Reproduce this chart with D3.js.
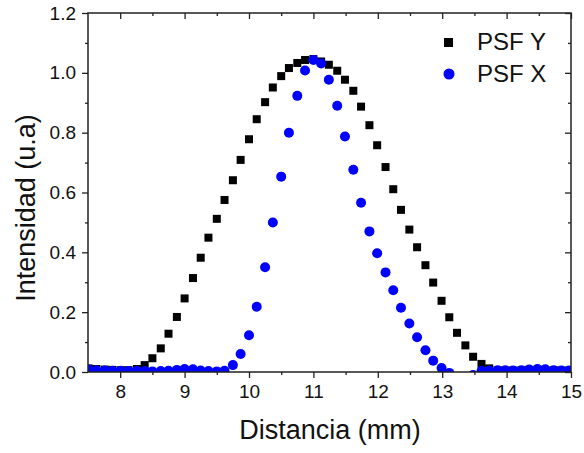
<!DOCTYPE html>
<html>
<head>
<meta charset="utf-8">
<script src="https://cdn.jsdelivr.net/npm/d3@7"></script>
<style>
    body { margin: 0; background: #fff; }
    text { font-family: "Liberation Sans", Arial, sans-serif; fill: #111; }
</style>
</head>
<body>
<svg id="chart" width="584" height="453"></svg>
<script>
// distance grid (mm), shared by both profiles
var distancia = [7.51, 7.63, 7.76, 7.88, 8.01, 8.13, 8.26, 8.38, 8.50, 8.63,
    8.75, 8.88, 9.00, 9.13, 9.25, 9.37, 9.50, 9.62, 9.75, 9.87,
    10.00, 10.12, 10.25, 10.37, 10.50, 10.62, 10.75, 10.87, 11.00, 11.12,
    11.24, 11.37, 11.49, 11.62, 11.74, 11.87, 11.99, 12.12, 12.24, 12.36,
    12.49, 12.61, 12.74, 12.86, 12.99, 13.11, 13.23, 13.36, 13.48, 13.61,
    13.73, 13.86, 13.98, 14.10, 14.23, 14.35, 14.48, 14.60, 14.73, 14.85, 14.97];

var psfY = [0.012, 0.010, 0.008, 0.007, 0.006, 0.006, 0.010, 0.023, 0.046, 0.079,
    0.128, 0.184, 0.246, 0.314, 0.382, 0.449, 0.512, 0.575, 0.641, 0.709,
    0.778, 0.845, 0.902, 0.951, 0.989, 1.016, 1.033, 1.043, 1.046, 1.038,
    1.027, 1.007, 0.977, 0.940, 0.887, 0.825, 0.758, 0.685, 0.611, 0.542,
    0.476, 0.417, 0.357, 0.299, 0.238, 0.183, 0.131, 0.089, 0.051, 0.027,
    0.012, 0.006, 0.005, 0.005, 0.006, 0.007, 0.008, 0.007, 0.006, 0.005, 0.005];

var psfX = [0.008, 0.006, 0.005, 0.004, 0.004, 0.003, 0.004, 0.003, 0.002, 0.003,
    0.004, 0.007, 0.010, 0.009, 0.005, 0.003, 0.002, 0.004, 0.023, 0.060,
    0.123, 0.218, 0.350, 0.500, 0.653, 0.800, 0.923, 1.008, 1.043, 1.031,
    0.977, 0.890, 0.787, 0.676, 0.566, 0.470, 0.397, 0.333, 0.273, 0.215,
    0.162, 0.116, 0.073, 0.038, 0.013, -0.003, -0.020, -0.020, -0.010, 0.003,
    0.005, 0.006, 0.006, 0.005, 0.006, 0.008, 0.010, 0.009, 0.006, 0.005, 0.005];

var xTicks = [8, 9, 10, 11, 12, 13, 14, 15];
var xMinor = [8.5, 9.5, 10.5, 11.5, 12.5, 13.5, 14.5];
var yTicks = [0, 0.2, 0.4, 0.6, 0.8, 1.0, 1.2];
var yMinor = [0.1, 0.3, 0.5, 0.7, 0.9, 1.1];

var svg = d3.select("#chart");
var margin = { left: 88, right: 13, top: 13, bottom: 81 };
var width = +svg.attr("width") - margin.left - margin.right;
var height = +svg.attr("height") - margin.top - margin.bottom;

var x = d3.scaleLinear().domain([7.5, 15]).range([0, width]);
var y = d3.scaleLinear().domain([0, 1.2]).range([height, 0]);

var g = svg.append("g")
    .attr("transform", "translate(" + margin.left + "," + margin.top + ")");

g.append("clipPath").attr("id", "clip")
    .append("rect").attr("width", width).attr("height", height);

var plot = g.append("g").attr("clip-path", "url(#clip)");

// PSF Y squares first, circles drawn over them
plot.selectAll("rect.sq")
    .data(distancia)
    .enter()
    .append("rect")
    .attr("class", "sq")
    .attr("x", function (d) { return x(d) - 4; })
    .attr("y", function (d, i) { return y(psfY[i]) - 4; })
    .attr("width", 8)
    .attr("height", 8)
    .attr("fill", "#000");

plot.selectAll("circle")
    .data(distancia)
    .enter()
    .append("circle")
    .attr("cx", function (d) { return x(d); })
    .attr("cy", function (d, i) { return y(psfX[i]); })
    .attr("r", 5)
    .attr("fill", "#0000ff");

// axes: bottom/left with labels, top/right mirrored inward
function styleAxis(sel) {
    sel.select(".domain").remove();
    sel.selectAll("line").attr("stroke", "#222").attr("stroke-width", 1.3);
    sel.selectAll("text").attr("font-size", "19px").attr("fill", "#111");
}

g.append("g").attr("transform", "translate(0," + height + ")")
    .call(d3.axisBottom(x).tickValues(xTicks).tickSize(6).tickPadding(7).tickFormat(d3.format("d")))
    .call(styleAxis);
g.append("g").attr("transform", "translate(0," + height + ")")
    .call(d3.axisBottom(x).tickValues(xMinor).tickSize(3).tickFormat(""))
    .call(styleAxis);
g.append("g")
    .call(d3.axisLeft(y).tickValues(yTicks).tickSize(6).tickPadding(6).tickFormat(d3.format(".1f")))
    .call(styleAxis);
g.append("g")
    .call(d3.axisLeft(y).tickValues(yMinor).tickSize(3).tickFormat(""))
    .call(styleAxis);
g.append("g")
    .call(d3.axisBottom(x).tickValues(xTicks).tickSize(6).tickFormat(""))
    .call(styleAxis);
g.append("g")
    .call(d3.axisBottom(x).tickValues(xMinor).tickSize(3).tickFormat(""))
    .call(styleAxis);
g.append("g").attr("transform", "translate(" + width + ",0)")
    .call(d3.axisLeft(y).tickValues(yTicks).tickSize(6).tickFormat(""))
    .call(styleAxis);
g.append("g").attr("transform", "translate(" + width + ",0)")
    .call(d3.axisLeft(y).tickValues(yMinor).tickSize(3).tickFormat(""))
    .call(styleAxis);

g.append("rect")
    .attr("width", width)
    .attr("height", height)
    .attr("fill", "none")
    .attr("stroke", "#222")
    .attr("stroke-width", 1.5);

// axis titles
svg.append("text")
    .attr("x", 330)
    .attr("y", 439)
    .attr("text-anchor", "middle")
    .attr("font-size", "27px")
    .text("Distancia (mm)");

svg.append("text")
    .attr("transform", "translate(35,208) rotate(-90)")
    .attr("text-anchor", "middle")
    .attr("font-size", "27px")
    .text("Intensidad (u.a)");

// legend
var legend = svg.append("g");
legend.append("rect")
    .attr("x", 444).attr("y", 38)
    .attr("width", 9).attr("height", 9)
    .attr("fill", "#000");
legend.append("text")
    .attr("x", 477).attr("y", 50)
    .attr("font-size", "24px")
    .text("PSF Y");
legend.append("circle")
    .attr("cx", 449).attr("cy", 74)
    .attr("r", 5.5)
    .attr("fill", "#0000ff");
legend.append("text")
    .attr("x", 477).attr("y", 82)
    .attr("font-size", "24px")
    .text("PSF X");
</script>
</body>
</html>
